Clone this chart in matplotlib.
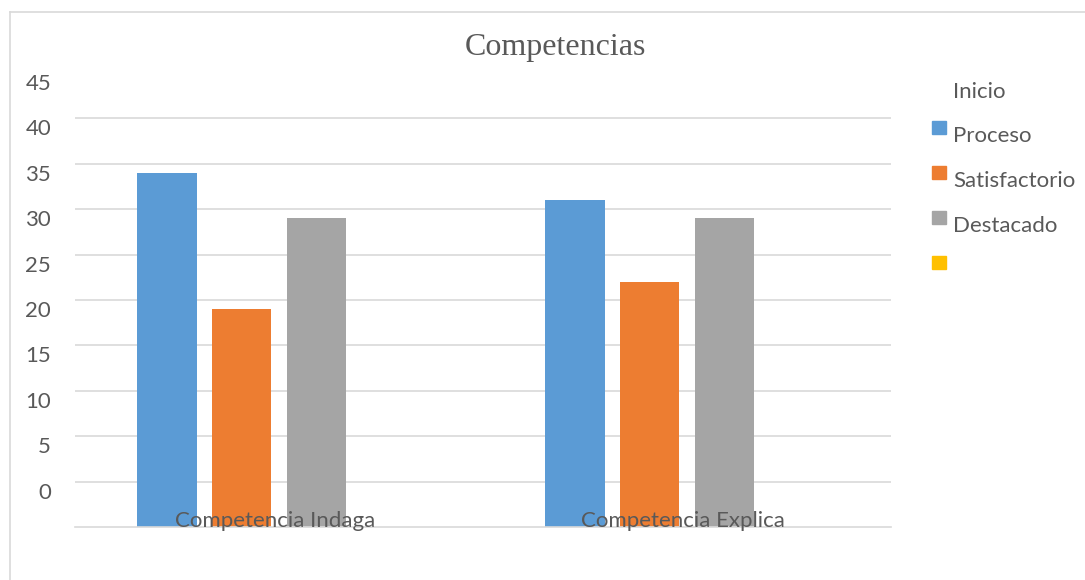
import matplotlib.pyplot as plt
import numpy as np
from matplotlib.lines import Line2D
from matplotlib.patches import Rectangle
from matplotlib.transforms import ScaledTranslation

# data
categories = ['Competencia Indaga', 'Competencia Explica']
proceso = [34, 31]
satisfactorio = [19, 22]
destacado = [29, 29]
inicio = [np.nan, np.nan]   # fourth series has no values
series = [proceso, satisfactorio, destacado, inicio]
colors = ['#5b9bd5', '#ed7d31', '#a5a5a5', '#ffc000']
legend_text = ['Inicio', 'Proceso', 'Satisfactorio', 'Destacado', '']
yticks = [0, 5, 10, 15, 20, 25, 30, 35, 40, 45]

txt = '#595959'
grid_c = '#d9d9d9'
plt.rcParams['font.family'] = ['Lato', 'DejaVu Sans']

fig = plt.figure(figsize=(10.85, 5.8), dpi=100)
ax = fig.add_axes([75/1085, 53/580, 816/1085, 454/580])

ymin, ymax = -5, 45
ax.set_xlim(-0.5, len(categories)-0.5)
ax.set_ylim(ymin, ymax)

# horizontal gridlines (none at the very top)
for t in yticks[:-1]:
    ax.axhline(t, color=grid_c, lw=1.2, zorder=0)

step = 0.183
width = 0.145
x = np.arange(len(categories))
for i, (vals, c) in enumerate(zip(series, colors)):
    v = np.array(vals, dtype=float)
    if np.all(np.isnan(v)):
        continue
    ax.bar(x + (i-1.5)*step, v - ymin, bottom=ymin, width=width, color=c, zorder=2)

for xi, name in zip(x, categories):
    ax.text(xi - 0.01, -4.95, name, ha='center', va='baseline', fontsize=16, color=txt, zorder=3)

for s in ['top', 'right', 'left']:
    ax.spines[s].set_visible(False)
ax.spines['bottom'].set_color(grid_c)
ax.spines['bottom'].set_linewidth(1.2)
ax.set_xticks([])
ax.set_yticks(yticks)
ax.set_yticklabels([str(t) for t in yticks])
ax.tick_params(axis='y', length=0, pad=23, labelsize=16, labelcolor=txt)
shift = ScaledTranslation(8/100, -9/100, fig.dpi_scale_trans)
for lab in ax.get_yticklabels():
    lab.set_transform(lab.get_transform() + shift)

fig.text(555/1085, 1 - 47/580, 'Competencias', ha='center', va='center',
         fontsize=23, color=txt, family='Liberation Serif')

# legend, drawn by hand
for k, lab in enumerate(legend_text):
    yc = 92 + 44.5*k
    fig.text(953/1085, 1 - yc/580, lab, ha='left', va='center', fontsize=16, color=txt)
for k, c in enumerate(colors):
    yt = 121 + 45*k
    fig.patches.append(Rectangle((932/1085, 1 - (yt+13)/580), 14/1085, 13/580,
                                 transform=fig.transFigure, color=c))

# frame edges
fig.lines.append(Line2D([10/1085, 10/1085], [0, 1 - 12/580], transform=fig.transFigure,
                        color=grid_c, lw=1.2))
fig.lines.append(Line2D([10/1085, 1], [1 - 12/580, 1 - 12/580], transform=fig.transFigure,
                        color=grid_c, lw=1.2))

fig.savefig('out.png', dpi=100)
